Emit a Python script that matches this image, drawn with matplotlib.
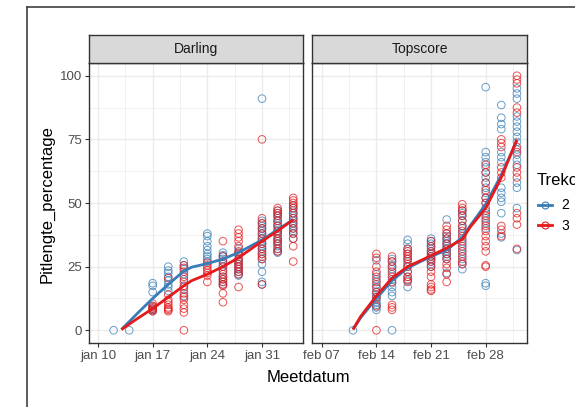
# -*- coding: utf-8 -*-
"""
Pitlengte percentage per meetdatum, per ras (Darling / Topscore) en trekcode.
"""

import numpy as np
import pandas as pd
import matplotlib
matplotlib.use("Agg")
import matplotlib.pyplot as plt
import matplotlib.dates as mdates
from matplotlib.lines import Line2D
from matplotlib.ticker import FuncFormatter, MultipleLocator

plt.rcParams['font.family'] = ['Liberation Sans', 'DejaVu Sans']
plt.rcParams['axes.axisbelow'] = True

### 0 ### Data

darling_dates = ["2015-01-12", "2015-01-14", "2015-01-17", "2015-01-19", "2015-01-21",
                 "2015-01-24", "2015-01-26", "2015-01-28", "2015-01-31", "2015-02-02",
                 "2015-02-04"]
darling_g2 = [
    [0],
    [0],
    [18.5, 17.5, 15, 9.5, 8.5, 8, 7.5],
    [25, 23.5, 22.5, 21, 19.5, 18, 17, 15.5],
    [27, 25.5, 24, 22, 20, 17, 13.5],
    [38, 37, 35, 33, 31.5, 30, 29, 28, 27],
    [30.5, 29.5, 29, 28, 27, 26, 25, 23, 21, 20, 19, 18],
    [32, 30.5, 29.5, 28, 27, 26, 25, 24, 23, 22, 21.5],
    [91, 43, 42, 41, 40, 39, 38, 37, 36, 35, 34, 33, 32, 31, 30, 28, 26, 23, 19, 18],
    [47, 46, 45, 44, 43, 42, 41, 40, 39, 38, 37, 36, 35, 34, 33, 32, 31, 30.5],
    [49, 48, 47, 46, 45, 44, 43, 42, 41, 40, 39, 38, 36],
]
darling_g3 = [
    [],
    [],
    [10.5, 9.5, 9, 8.5, 8, 7.5],
    [20.5, 14, 12, 11, 10, 9, 8.5, 8, 7.5],
    [25.5, 24.5, 23, 21, 19, 17.5, 16, 14.5, 13, 12, 10, 8.5, 7, 0],
    [26.5, 25.5, 24.5, 23.5, 22.5, 21.5, 19],
    [35, 29, 27, 25, 23.5, 22, 21, 20, 19, 18, 17.5, 14.5, 11],
    [39.5, 38, 36.5, 35, 33, 31, 30, 28, 27, 26, 25, 24, 23, 22, 17],
    [75, 44, 42, 40, 38, 36, 34, 32, 30, 29, 28, 18],
    [48, 47, 46, 45, 43, 41, 39, 38, 36, 35, 34, 32, 31],
    [52, 51, 50, 49, 48, 46, 44, 42, 40, 38, 36, 33, 27],
]

topscore_dates = ["2015-02-11", "2015-02-14", "2015-02-16", "2015-02-18", "2015-02-21",
                  "2015-02-23", "2015-02-25", "2015-02-28", "2015-03-02", "2015-03-04"]
topscore_g2 = [
    [0],
    [27.5, 22, 20, 18, 16.5, 15, 14, 13, 12, 11, 10, 9, 8],
    [28, 27, 25.5, 24, 22, 20, 18.5, 17, 15, 13.5, 0],
    [35.5, 34, 32, 30, 28, 27, 25, 23, 21, 19.5, 17],
    [36, 35, 34, 33, 32, 31, 30, 29, 28, 27, 26, 25],
    [43.5, 38, 37, 36, 35, 34, 33, 32, 31, 30, 29, 28, 22.5],
    [47, 46, 45, 43, 41, 40, 38, 36, 34, 32, 30, 28, 26, 24],
    [95.5, 70, 68, 66, 64, 62, 60, 58, 56, 54, 52, 50, 48, 46, 44, 42, 40, 18.5, 17.5],
    [88.5, 83.5, 81, 79, 70, 68, 66, 56, 54, 52, 50.5, 46, 38, 36.5],
    [95, 93, 91, 84, 82, 80, 78, 76, 74, 71, 69, 67, 65, 58, 56, 48, 31.5],
]
topscore_g3 = [
    [],
    [30, 28.5, 25, 23, 21, 19, 17, 15, 13, 9.5, 0],
    [29, 27, 25, 23, 21, 19, 10, 9, 8],
    [32, 31, 30, 29, 28, 26, 25, 23, 21, 20, 19],
    [35, 33, 31, 30, 29, 28, 27, 25, 23, 21, 18, 17, 16, 15.5],
    [41, 39.5, 38, 36, 34, 32, 30, 28, 26, 24.5, 22, 19],
    [49.5, 48, 47, 45, 43, 41, 39, 37, 35, 33, 31, 29, 27, 26],
    [65, 62, 58, 55, 52, 50, 47, 45, 43, 41, 39, 37, 35, 33, 31, 25.5, 25],
    [75, 73.5, 72, 64, 62, 60, 41, 39.5, 37],
    [100, 98.5, 97, 87.5, 85.5, 72, 70, 64, 62, 60, 46, 44, 41.5, 32],
]

# smoothed trend lines
darling_fit_dates = ["2015-01-13", "2015-01-15", "2015-01-17", "2015-01-19", "2015-01-21",
                     "2015-01-22", "2015-01-24", "2015-01-26", "2015-01-28", "2015-01-31",
                     "2015-02-02", "2015-02-04"]
darling_fit_g2 = [0.3, 6.5, 12.5, 18, 23.3, 24.8, 26.2, 28, 30.5, 35.5, 39.5, 43.5]
darling_fit_g3 = [0.3, 4.5, 8.5, 13, 17.5, 19.5, 22, 25, 28.5, 35, 39, 43.5]

topscore_fit_dates = ["2015-02-11", "2015-02-12", "2015-02-14", "2015-02-16", "2015-02-18",
                      "2015-02-21", "2015-02-23", "2015-02-25", "2015-02-26", "2015-02-28",
                      "2015-03-02", "2015-03-04"]
topscore_fit_g2 = [0.3, 5, 12.5, 19.5, 24.5, 29, 31.5, 36.5, 41, 49.5, 61, 74.5]
topscore_fit_g3 = [0.3, 5.5, 13.5, 20.5, 25, 29.3, 32.3, 35.7, 40.5, 48, 60, 75]

darling_ticks = ["2015-01-10", "2015-01-17", "2015-01-24", "2015-01-31"]
topscore_ticks = ["2015-02-07", "2015-02-14", "2015-02-21", "2015-02-28"]
month_nl = ["jan", "feb", "mrt", "apr", "mei", "jun", "jul", "aug", "sep", "okt", "nov", "dec"]

col2 = "#377EB8"
col3 = "#E41A1C"

### 1 ### Layout

W, H = 575, 407
fig = plt.figure(figsize=(W / 100, H / 100), dpi=100)

def fx(px):
    return px / W

def fy(py):
    return 1 - py / H

panel_top, panel_bot, strip_top = 63, 343, 35
panels = [
    ("Darling", 89, 303, darling_dates, darling_g2, darling_g3,
     darling_fit_dates, darling_fit_g2, darling_fit_g3, darling_ticks,
     ("2015-01-08 20:24", "2015-02-05 06:00")),
    ("Topscore", 312, 527, topscore_dates, topscore_g2, topscore_g3,
     topscore_fit_dates, topscore_fit_g2, topscore_fit_g3, topscore_ticks,
     ("2015-02-05 18:00", "2015-03-05 07:00")),
]

def nl_date(x, pos=None):
    d = mdates.num2date(x)
    return "%s %02d" % (month_nl[d.month - 1], d.day)

axes = []
for (name, x0, x1, dates, g2, g3, fdates, f2, f3, ticks, xl) in panels:
    ax = fig.add_axes([fx(x0), fy(panel_bot), fx(x1 - x0), (panel_bot - panel_top) / H])
    axes.append(ax)

    # points
    for vals_list, col in [(g2, col2), (g3, col3)]:
        for d, vals in zip(dates, vals_list):
            if len(vals) == 0:
                continue
            xs = [pd.Timestamp(d)] * len(vals)
            ax.scatter(xs, vals, s=30, facecolors="none", edgecolors=col,
                       linewidths=0.7, alpha=0.75, zorder=3)

    # trend lines
    fd = pd.to_datetime(fdates)
    ax.plot(fd, f2, color=col2, lw=2, zorder=4, solid_capstyle="butt")
    ax.plot(fd, f3, color=col3, lw=2, zorder=5, solid_capstyle="butt")

    # scales (ticks first, then limits so the ticks don't widen the view)
    tick_pos = pd.to_datetime(ticks)
    ax.set_xticks(tick_pos)
    ax.set_xticks(tick_pos + pd.Timedelta(hours=84), minor=True)
    ax.xaxis.set_major_formatter(FuncFormatter(nl_date))
    ax.yaxis.set_major_locator(MultipleLocator(25))
    ax.yaxis.set_minor_locator(MultipleLocator(12.5))
    ax.set_xlim(pd.Timestamp(xl[0]), pd.Timestamp(xl[1]))
    ax.set_ylim(-5, 105)

    ax.grid(True, which="major", color="#ebebeb", lw=1.0)
    ax.grid(True, which="minor", color="#ebebeb", lw=0.5)
    for s in ax.spines.values():
        s.set_color("#333333")
        s.set_linewidth(1.0)
    ax.tick_params(which="major", length=3, width=0.8, color="#333333",
                   labelsize=9.5, labelcolor="#4d4d4d", pad=2)
    ax.tick_params(which="minor", length=0)

    # facet strip
    sax = fig.add_axes([fx(x0), fy(panel_top), fx(x1 - x0), (panel_top - strip_top) / H])
    sax.set_facecolor("#d9d9d9")
    sax.set_xticks([])
    sax.set_yticks([])
    for s in sax.spines.values():
        s.set_color("#333333")
        s.set_linewidth(1.0)
    sax.text(0.5, 0.5, name, ha="center", va="center", fontsize=10, color="#1a1a1a",
             transform=sax.transAxes)

axes[1].tick_params(axis="y", which="both", left=False, labelleft=False)

# axis titles
fig.text(fx(308), fy(378), "Meetdatum", ha="center", va="center", fontsize=12)
fig.text(fx(47), fy(204), "Pitlengte_percentage", ha="center", va="center",
         rotation=90, fontsize=12)

# legend
fig.text(fx(537), fy(181), "Trekcode", ha="left", va="center", fontsize=12)
handles = [Line2D([], [], color=c, lw=2, marker="o", markersize=5,
                  markerfacecolor="none", markeredgecolor=c, markeredgewidth=0.8)
           for c in (col2, col3)]
fig.legend(handles, ["2", "3"], loc="center left",
           bbox_to_anchor=(fx(538), fy(215.5)), frameon=False, fontsize=10,
           borderpad=0, borderaxespad=0,
           handlelength=1.0, handletextpad=0.7, labelspacing=0.45)

# window frame around the plot
fig.add_artist(Line2D([fx(27), 1], [fy(7), fy(7)], color="#404040", lw=1.2))
fig.add_artist(Line2D([fx(27), fx(27)], [fy(7), 0], color="#404040", lw=1.2))

### 2 ### Export
fig.savefig("out.png", dpi=100)
